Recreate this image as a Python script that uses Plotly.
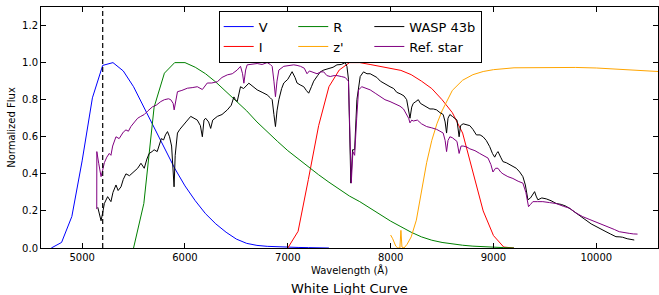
import plotly.graph_objects as go

# ---------------- data ----------------
v_wl = [4700, 4800, 4900, 5000, 5100, 5200, 5300, 5400, 5500, 5600, 5700, 5800, 5900, 6000,
        6100, 6200, 6300, 6400, 6500, 6600, 6700, 6800, 6900, 7000, 7100, 7200, 7300, 7400]
v_tr = [0.0, 0.03, 0.17, 0.47, 0.81, 0.985, 1.0, 0.955, 0.87, 0.76, 0.645, 0.535, 0.43, 0.335,
        0.255, 0.185, 0.13, 0.085, 0.048, 0.025, 0.014, 0.009, 0.006, 0.004, 0.003, 0.002, 0.001, 0.0]

r_wl = [5500, 5600, 5700, 5800, 5900, 6000, 6100, 6200, 6300, 6400, 6500, 6600, 6700, 6800,
        6900, 7000, 7100, 7200, 7300, 7400, 7500, 7600, 7700, 7800, 7900, 8000, 8100, 8200,
        8300, 8400, 8500, 8600, 8700, 8800, 8900, 9000, 9100, 9200]
r_tr = [0.0, 0.24, 0.76, 0.943, 1.0, 1.0, 0.975, 0.94, 0.895, 0.845, 0.79, 0.74, 0.68, 0.625,
        0.575, 0.525, 0.48, 0.44, 0.395, 0.355, 0.315, 0.28, 0.25, 0.215, 0.18, 0.145, 0.115, 0.085,
        0.06, 0.042, 0.03, 0.021, 0.015, 0.01, 0.006, 0.004, 0.002, 0.0]

i_wl = [7000, 7100, 7200, 7300, 7400, 7500, 7600, 7700, 7800, 7900, 8000, 8100, 8200, 8300,
        8400, 8500, 8600, 8700, 8800, 8900, 9000, 9100, 9200]
i_tr = [0.0, 0.09, 0.37, 0.66, 0.87, 0.96, 1.0, 1.0, 0.99, 0.978, 0.968, 0.958, 0.935, 0.9,
        0.86, 0.8, 0.73, 0.62, 0.41, 0.2, 0.067, 0.005, 0.0]

z_wl = [8000, 8020, 8050, 8070, 8090, 8100, 8110, 8130, 8160, 8200, 8250, 8300, 8350, 8400,
        8450, 8500, 8600, 8700, 8800, 8900, 9000, 9200, 9500, 9800, 10000, 10200, 10400, 10600]
z_tr = [0.07, 0.05, 0.01, 0.0, 0.0, 0.095, 0.005, 0.0, 0.02, 0.06, 0.15, 0.3, 0.46, 0.58,
        0.67, 0.74, 0.85, 0.905, 0.935, 0.952, 0.962, 0.972, 0.975, 0.974, 0.971, 0.966, 0.96, 0.952]

wasp_wl = [5152, 5184, 5200, 5216, 5248, 5280, 5300, 5329, 5350, 5378, 5400, 5426, 5460, 5507,
           5540, 5572, 5604, 5630, 5652, 5680, 5700, 5730, 5749, 5770, 5792, 5810, 5830, 5850,
           5870, 5885, 5894, 5905, 5927, 5950, 5976, 6010, 6056, 6090, 6120, 6150, 6169, 6185,
           6201, 6230, 6250, 6270, 6315, 6360, 6412, 6450, 6476, 6490, 6508, 6540, 6570, 6621,
           6660, 6702, 6750, 6799, 6830, 6848, 6865, 6880, 6895, 6913, 6940, 6961, 7000, 7042,
           7070, 7090, 7120, 7155, 7180, 7203, 7230, 7252, 7290, 7316, 7350, 7397, 7440, 7478,
           7520, 7558, 7575, 7590, 7600, 7613, 7630, 7650, 7672, 7704, 7736, 7770, 7801, 7835,
           7866, 7900, 7929, 7960, 7994, 8030, 8059, 8100, 8130, 8156, 8175, 8188, 8205, 8220,
           8245, 8269, 8290, 8318, 8350, 8382, 8415, 8447, 8480, 8511, 8530, 8544, 8558, 8576,
           8600, 8625, 8645, 8666, 8680, 8705, 8740, 8770, 8800, 8834, 8870, 8899, 8930, 8963,
           8990, 9012, 9030, 9044, 9070, 9092, 9125, 9157, 9190, 9222, 9255, 9286, 9310, 9335,
           9360, 9380, 9400, 9415, 9432, 9470, 9513, 9560, 9610, 9660, 9707, 9750, 9804, 9850,
           9900, 9950, 9997, 10050, 10094, 10140, 10191, 10230, 10256, 10300, 10369]
wasp_fl = [0.22, 0.147, 0.19, 0.24, 0.277, 0.25, 0.30, 0.34, 0.31, 0.33, 0.37, 0.40, 0.39, 0.415,
           0.43, 0.457, 0.43, 0.48, 0.51, 0.52, 0.53, 0.52, 0.55, 0.59, 0.583, 0.61, 0.628, 0.60,
           0.55, 0.40, 0.33, 0.50, 0.62, 0.64, 0.655, 0.68, 0.71, 0.70, 0.69, 0.66, 0.60, 0.69,
           0.70, 0.68, 0.645, 0.69, 0.71, 0.72, 0.745, 0.77, 0.815, 0.80, 0.79, 0.87, 0.86, 0.889,
           0.87, 0.853, 0.84, 0.826, 0.81, 0.80, 0.72, 0.655, 0.74, 0.80, 0.86, 0.89, 0.91, 0.951,
           0.92, 0.89, 0.88, 0.87, 0.85, 0.835, 0.87, 0.90, 0.93, 0.95, 0.96, 0.97, 0.975, 0.988,
           0.99, 1.0, 0.98, 0.91, 0.6, 0.35, 0.53, 0.53, 0.80, 0.925, 0.95, 0.94, 0.94, 0.93,
           0.92, 0.90, 0.89, 0.88, 0.87, 0.86, 0.84, 0.83, 0.82, 0.80, 0.74, 0.70, 0.76, 0.78,
           0.79, 0.80, 0.78, 0.77, 0.76, 0.75, 0.75, 0.745, 0.73, 0.72, 0.68, 0.62, 0.70, 0.72,
           0.71, 0.70, 0.69, 0.60, 0.66, 0.67, 0.665, 0.66, 0.64, 0.61, 0.61, 0.60, 0.58, 0.547,
           0.51, 0.49, 0.51, 0.52, 0.49, 0.466, 0.46, 0.45, 0.44, 0.43, 0.41, 0.385, 0.34, 0.26,
           0.27, 0.29, 0.304, 0.28, 0.26, 0.27, 0.265, 0.255, 0.24, 0.235, 0.225, 0.21, 0.187, 0.17,
           0.15, 0.13, 0.115, 0.10, 0.088, 0.075, 0.061, 0.06, 0.058, 0.05, 0.043]

ref_wl = [5142, 5143, 5161, 5184, 5200, 5216, 5240, 5264, 5280, 5297, 5329, 5360, 5400, 5426,
          5450, 5474, 5510, 5540, 5570, 5604, 5640, 5685, 5720, 5765, 5800, 5840, 5862, 5885,
          5895, 5905, 5927, 5970, 6024, 6070, 6120, 6169, 6217, 6260, 6315, 6360, 6412, 6460,
          6508, 6540, 6560, 6573, 6590, 6605, 6650, 6702, 6750, 6799, 6830, 6848, 6865, 6880,
          6895, 6913, 6961, 7010, 7058, 7090, 7123, 7160, 7187, 7210, 7250, 7284, 7320, 7349,
          7380, 7413, 7450, 7478, 7520, 7558, 7590, 7607, 7617, 7633, 7650, 7670, 7688, 7720,
          7760, 7801, 7850, 7897, 7945, 7994, 8040, 8091, 8125, 8156, 8175, 8188, 8205, 8220,
          8260, 8300, 8350, 8400, 8447, 8480, 8511, 8530, 8544, 8558, 8576, 8600, 8625, 8645,
          8666, 8685, 8705, 8740, 8770, 8820, 8866, 8900, 8947, 8975, 8995, 9020, 9044, 9070,
          9092, 9140, 9189, 9240, 9286, 9315, 9341, 9360, 9383, 9430, 9480, 9545, 9610, 9680,
          9739, 9800, 9868, 9930, 9997, 10060, 10126, 10175, 10223, 10270, 10320, 10360, 10401]
ref_fl = [0.21, 0.52, 0.457, 0.385, 0.42, 0.46, 0.49, 0.51, 0.50, 0.55, 0.60, 0.59, 0.625, 0.637,
          0.63, 0.655, 0.68, 0.70, 0.71, 0.72, 0.74, 0.762, 0.77, 0.79, 0.80, 0.805, 0.80, 0.78,
          0.745, 0.78, 0.843, 0.85, 0.862, 0.865, 0.87, 0.855, 0.89, 0.89, 0.897, 0.92, 0.934, 0.94,
          0.96, 0.98, 0.94, 0.889, 0.96, 0.988, 0.99, 0.995, 0.99, 1.0, 0.99, 0.98, 0.90, 0.816,
          0.90, 0.96, 0.98, 0.985, 0.988, 0.985, 0.98, 0.97, 0.94, 0.955, 0.945, 0.94, 0.95, 0.95,
          0.93, 0.925, 0.93, 0.93, 0.925, 0.92, 0.90, 0.44, 0.35, 0.52, 0.50, 0.70, 0.853, 0.87,
          0.86, 0.853, 0.835, 0.816, 0.80, 0.79, 0.78, 0.765, 0.75, 0.72, 0.70, 0.675, 0.69, 0.685,
          0.69, 0.67, 0.655, 0.648, 0.64, 0.63, 0.62, 0.58, 0.52, 0.58, 0.60, 0.595, 0.585, 0.575,
          0.51, 0.55, 0.55, 0.545, 0.535, 0.525, 0.51, 0.50, 0.485, 0.45, 0.41, 0.43, 0.43, 0.41,
          0.40, 0.385, 0.375, 0.36, 0.35, 0.30, 0.223, 0.235, 0.25, 0.25, 0.25, 0.245, 0.24, 0.225,
          0.215, 0.19, 0.169, 0.155, 0.14, 0.128, 0.115, 0.10, 0.088, 0.082, 0.079, 0.076, 0.075]

marker_wavelength = 5200
x_range = [4600, 10600]
y_range = [0, 1.3]
x_ticks = [5000, 6000, 7000, 8000, 9000, 10000]
y_ticks = [0.0, 0.2, 0.4, 0.6, 0.8, 1.0, 1.2]

# ---------------- figure ----------------
FONT = "DejaVu Sans"
PAD = "\u00a0" * 5   # widens the first two legend columns
fig = go.Figure()

# (name, x, y, colour, legend column, padding)
series = [
    ("V", v_wl, v_tr, "#0000ff", "c1", PAD),
    ("I", i_wl, i_tr, "#ff0000", "c1", PAD),
    ("R", r_wl, r_tr, "#008000", "c2", PAD),
    ("z'", z_wl, z_tr, "#ffa500", "c2", PAD),
    ("WASP 43b", wasp_wl, wasp_fl, "#000000", "c3", ""),
    ("Ref. star", ref_wl, ref_fl, "#800080", "c3", ""),
]
for name, xs, ys, col, grp, pad in series:
    fig.add_trace(go.Scatter(
        x=xs, y=ys, mode="lines", name=name + pad,
        line=dict(color=col, width=1),
        legendgroup=grp,
    ))

fig.add_shape(type="line", xref="x", yref="paper",
              x0=marker_wavelength, x1=marker_wavelength, y0=0, y1=1,
              line=dict(color="black", width=1.2, dash="5px,3px"))

axis_common = dict(
    showline=True, linecolor="black", linewidth=1, mirror="ticks",
    ticks="inside", ticklen=5, tickwidth=1, tickcolor="black",
    showgrid=False, zeroline=False,
    tickfont=dict(family=FONT, size=10, color="black"),
)

fig.update_layout(
    width=659, height=295,
    margin=dict(l=41, r=1, t=7, b=47),
    paper_bgcolor="white", plot_bgcolor="white",
    font=dict(family=FONT, color="black"),
    xaxis=dict(range=x_range, tickvals=x_ticks, ticktext=[str(t) for t in x_ticks],
               title=dict(text="Wavelength (Å)", font=dict(family=FONT, size=10), standoff=4),
               **axis_common),
    yaxis=dict(range=y_range, tickvals=y_ticks, ticktext=[f"{t:.1f}" for t in y_ticks],
               title=dict(text="Normalized Flux", font=dict(family=FONT, size=10), standoff=4),
               **axis_common),
    legend=dict(
        x=0.288, y=0.985, xanchor="left", yanchor="top",
        orientation="h", traceorder="grouped", tracegroupgap=0,
        bordercolor="black", borderwidth=1, bgcolor="white",
        font=dict(family=FONT, size=13, color="black"),
    ),
    showlegend=True,
    annotations=[dict(
        text="White Light Curve", xref="paper", yref="paper",
        x=0.5, y=-0.128, yanchor="top", showarrow=False,
        font=dict(family=FONT, size=13, color="black"),
    )],
)

fig.write_html(
    "out.html",
    config={"displayModeBar": False},
    post_script="document.body.style.margin='0';document.body.style.overflow='hidden';",
)
